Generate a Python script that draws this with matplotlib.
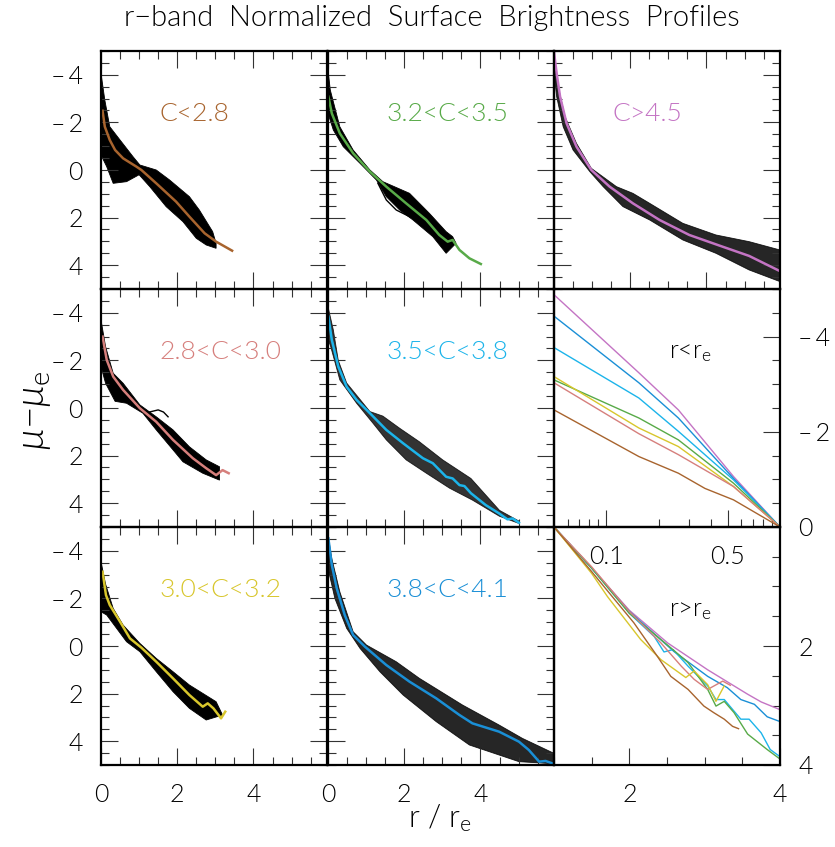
import matplotlib.pyplot as plt
from matplotlib import font_manager as fm
from matplotlib.ticker import MultipleLocator, FixedLocator, FuncFormatter


# thin looking text, close to the plotting-package font of the original
def pick_light():
    for fam in ['Lato', 'Open Sans', 'Roboto', 'Inter', 'Noto Sans']:
        for f in fm.fontManager.ttflist:
            w = f.weight
            if isinstance(w, str):
                w = fm.weight_dict.get(w, 400)
            if f.name == fam and f.style == 'normal' and w == 300:
                return fam, 300
    return 'DejaVu Sans', 400


fam, wt = pick_light()
plt.rcParams['font.family'] = [fam, 'DejaVu Sans']
plt.rcParams['font.weight'] = wt
plt.rcParams['mathtext.fontset'] = 'custom'
plt.rcParams['mathtext.rm'] = '%s:weight=%d' % (fam, wt)
plt.rcParams['mathtext.it'] = '%s:style=italic:weight=%d' % (fam, wt)
plt.rcParams['mathtext.default'] = 'it'

# ---- colours of the concentration bins
brown, salmon, yellow, green = '#a8642e', '#d67f7c', '#d8c62c', '#58aa48'
sky, blue, orchid = '#1cb4ea', '#1a8fd6', '#c474c4'

# ---- C<2.8 : mean profile + envelope of the individual galaxies
c1_x = [0.04, 0.10, 0.23, 0.37, 0.58, 0.93, 1.06, 1.45, 1.97, 2.32, 2.72, 3.02, 3.44]
c1_y = [-2.49, -1.82, -1.26, -0.84, -0.49, -0.14, 0.0, 0.56, 1.33, 1.96, 2.66, 3.01, 3.39]
c1_up_x = [0.0, 0.10, 0.23, 0.50, 0.84, 1.02, 1.45, 1.80, 2.32, 2.58, 2.93, 3.02]
c1_up_y = [-4.06, -2.94, -1.82, -1.26, -0.56, -0.21, 0.0, 0.42, 1.12, 1.68, 2.59, 3.08]
c1_lo_x = [0.0, 0.15, 0.32, 0.67, 1.00, 1.28, 1.71, 2.15, 2.50, 2.76, 3.02]
c1_lo_y = [-0.63, -0.14, 0.56, 0.49, 0.20, 0.70, 1.54, 2.17, 2.87, 3.15, 3.29]

# ---- 3.2<C<3.5
c2_x = [0.01, 0.10, 0.31, 0.66, 1.10, 1.53, 2.05, 2.58, 2.92, 3.14, 3.27, 3.45, 3.71, 4.01]
c2_y = [-3.08, -2.38, -1.54, -0.70, 0.07, 0.70, 1.40, 2.10, 2.73, 3.01, 2.94, 3.36, 3.71, 3.95]
c2_up_x = [0.0, 0.06, 0.31, 0.66, 1.10, 1.44, 2.14, 2.66, 3.10, 3.27, 3.36]
c2_up_y = [-4.2, -3.36, -1.82, -0.84, 0.0, 0.49, 0.98, 1.82, 2.59, 2.80, 3.08]
c2_lo_x = [0.0, 0.14, 0.40, 0.84, 1.27, 1.53, 1.88, 2.23, 2.75, 3.10]
c2_lo_y = [-2.38, -1.68, -0.98, -0.28, 0.42, 1.12, 1.68, 2.10, 2.80, 3.50]
c2_odd_x = [1.31, 1.53, 1.79, 2.14]
c2_odd_y = [0.56, 1.26, 1.68, 1.96]

# ---- C>4.5
c3_x = [0.0, 0.07, 0.16, 0.33, 0.59, 0.98, 1.46, 2.07, 2.77, 3.55, 4.42, 5.12, 5.93]
c3_y = [-4.95, -4.06, -3.08, -1.96, -0.98, 0.0, 0.70, 1.40, 2.10, 2.73, 3.22, 3.61, 4.25]
c3_up_x = [0.0, 0.11, 0.29, 0.59, 0.98, 1.64, 2.07, 2.51, 3.38, 4.25, 5.12, 5.93]
c3_up_y = [-4.95, -3.5, -2.24, -1.12, -0.07, 0.70, 0.98, 1.40, 2.24, 2.73, 3.01, 3.36]
c3_lo_x = [0.0, 0.07, 0.24, 0.50, 0.94, 1.29, 1.81, 2.51, 3.38, 4.25, 5.12, 5.93]
c3_lo_y = [-4.06, -3.08, -1.82, -0.84, 0.07, 0.70, 1.54, 2.10, 2.94, 3.50, 4.20, 4.69]

# ---- 2.8<C<3.0
c4_x = [0.04, 0.15, 0.32, 0.58, 1.02, 1.45, 1.89, 2.41, 2.76, 3.02, 3.19, 3.35]
c4_y = [-3.0, -2.02, -1.32, -0.76, 0.01, 0.58, 1.34, 2.11, 2.53, 2.82, 2.61, 2.74]
c4_up_x = [0.0, 0.12, 0.32, 0.58, 1.02, 1.45, 1.89, 2.32, 2.76, 3.11]
c4_up_y = [-3.70, -2.58, -1.46, -1.04, -0.13, 0.37, 0.92, 1.63, 2.18, 2.47]
c4_lo_x = [0.0, 0.12, 0.37, 0.67, 1.10, 1.45, 1.89, 2.15, 2.67, 3.11]
c4_lo_y = [-1.74, -1.04, -0.28, -0.20, 0.22, 0.92, 1.76, 2.26, 2.74, 3.03]
c4_odd_x = [1.15, 1.32, 1.50, 1.64, 1.76]
c4_odd_y = [0.22, 0.15, 0.08, 0.17, 0.37]

# ---- 3.5<C<3.8
c5_x = [0.01, 0.10, 0.27, 0.49, 0.75, 1.10, 1.53, 1.97, 2.49, 2.75, 3.10, 3.27, 3.45,
        3.58, 3.75, 4.14, 4.49, 4.71, 4.84, 5.01]
c5_y = [-3.84, -2.86, -1.74, -0.89, -0.34, 0.22, 0.92, 1.48, 2.11, 2.32, 2.89, 2.96, 3.24,
        3.28, 3.58, 4.08, 4.43, 4.68, 4.64, 4.82]
c5_up_x = [0.0, 0.14, 0.27, 0.49, 1.10, 1.44, 1.88, 2.40, 3.01, 3.75, 4.50, 5.01]
c5_up_y = [-4.26, -3.28, -2.0, -1.05, 0.15, 0.34, 0.85, 1.42, 2.18, 2.96, 4.30, 4.75]
c5_lo_x = [0.0, 0.07, 0.31, 0.75, 1.18, 1.53, 2.05, 2.58, 3.19, 3.79, 4.50, 5.01]
c5_lo_y = [-2.9, -2.58, -1.18, -0.20, 0.64, 1.34, 2.18, 2.74, 3.37, 3.87, 4.55, 4.85]

# ---- 3.0<C<3.2
c6_x = [0.04, 0.13, 0.23, 0.50, 0.76, 1.06, 1.45, 1.89, 2.32, 2.67, 2.80, 2.95, 3.15, 3.26]
c6_y = [-3.12, -2.14, -1.72, -1.02, -0.32, 0.07, 0.66, 1.36, 2.06, 2.55, 2.41, 2.62, 3.04, 2.76]
c6_up_x = [0.0, 0.12, 0.32, 0.58, 1.02, 1.45, 1.89, 2.32, 2.67, 3.02]
c6_up_y = [-3.54, -2.6, -1.58, -0.88, -0.11, 0.52, 1.08, 1.64, 1.99, 2.34]
c6_lo_x = [0.0, 0.15, 0.41, 0.67, 1.02, 1.45, 1.89, 2.32, 2.76, 3.19]
c6_lo_y = [-1.44, -1.30, -0.74, -0.18, 0.24, 1.08, 1.92, 2.62, 3.11, 2.90]

# ---- 3.8<C<4.1
c7_x = [0.01, 0.10, 0.23, 0.44, 0.66, 0.97, 1.53, 2.14, 2.84, 3.45, 3.79, 4.49, 4.75, 5.01,
        5.27, 5.54, 5.71, 5.88]
c7_y = [-4.52, -3.40, -2.42, -1.30, -0.46, 0.03, 0.80, 1.50, 2.20, 2.90, 3.25, 3.60, 3.81, 4.02,
        4.37, 4.86, 4.83, 4.93]
c7_up_x = [0.0, 0.10, 0.31, 0.66, 1.01, 1.79, 2.40, 3.53, 4.49, 5.10, 5.93]
c7_up_y = [-4.66, -3.68, -2.28, -0.60, -0.04, 0.66, 1.36, 2.48, 3.32, 3.88, 4.51]
c7_lo_x = [0.0, 0.18, 0.49, 0.84, 1.36, 1.97, 2.84, 3.71, 5.01, 5.93]
c7_lo_y = [-3.26, -2.0, -0.74, 0.10, 1.08, 2.06, 3.18, 4.16, 4.86, 4.95]

# ---- mean profiles inside r_e (log r/r_e)
in_r = [0.05, 0.154, 0.26, 0.54, 1.0]
in_c45 = [-4.88, -3.24, -2.46, -1.06, 0.0]
in_c41 = [-4.43, -3.03, -2.29, -1.02, 0.0]
in_c38 = [-3.77, -2.71, -2.01, -0.99, 0.0]
in_c35 = [-3.09, -2.29, -1.83, -0.92, 0.0]
in_c32 = [-3.16, -2.08, -1.69, -0.85, 0.0]
in_c30 = [-3.03, -1.96, -1.52, -0.85, 0.0]
in_c28_r = [0.05, 0.154, 0.26, 0.37, 0.54, 1.0]
in_c28 = [-2.46, -1.48, -1.13, -0.81, -0.57, 0.0]

# ---- mean profiles outside r_e
out_c45_r = [1.0, 1.5, 2.0, 2.51, 3.04, 3.57, 3.75, 4.0]
out_c45 = [0.0, 0.69, 1.40, 1.95, 2.40, 2.81, 2.94, 3.07]
out_c41_r = [1.0, 1.5, 2.0, 2.59, 3.04, 3.30, 3.48, 3.66, 3.83, 4.0]
out_c41 = [0.0, 0.69, 1.42, 2.09, 2.51, 2.70, 2.90, 2.98, 3.19, 3.27]
out_c38_r = [1.0, 1.5, 2.0, 2.33, 2.46, 2.58, 2.78, 3.04, 3.15, 3.26, 3.48, 3.59, 3.75, 3.87, 4.0]
out_c38 = [0.0, 0.69, 1.45, 1.84, 2.10, 2.06, 2.34, 2.67, 2.90, 2.90, 3.23, 3.23, 3.46, 3.74, 3.86]
out_c35_r = [1.0, 1.5, 2.0, 2.55, 2.78, 3.04, 3.15, 3.26, 3.39, 3.57, 3.83, 4.0]
out_c35 = [0.0, 0.69, 1.45, 2.03, 2.28, 2.73, 3.01, 2.93, 3.12, 3.48, 3.74, 3.90]
out_c30_r = [1.0, 1.5, 2.0, 2.42, 2.69, 2.86, 3.04, 3.24, 3.34]
out_c30 = [0.0, 0.67, 1.42, 1.95, 2.34, 2.56, 2.73, 2.59, 2.66]
out_c32_r = [1.0, 1.5, 1.71, 2.15, 2.42, 2.75, 2.86, 3.04, 3.15, 3.26]
out_c32 = [0.0, 0.78, 1.17, 1.89, 2.23, 2.53, 2.42, 2.65, 2.93, 2.67]
out_c28_r = [1.0, 1.5, 2.06, 2.37, 2.55, 2.78, 2.99, 3.12, 3.26, 3.37, 3.45]
out_c28 = [0.0, 0.75, 1.61, 2.17, 2.51, 2.73, 3.01, 3.12, 3.23, 3.35, 3.39]

FS = 18
W, H = 835, 847
fig = plt.figure(figsize=(W / 100, H / 100), dpi=100)

col_left = [101, 328, 554]
row_top = [51, 289, 527]
pw, ph = 226, 238


def tick_fmt(v, pos):
    # long minus sign, as in the original labels
    if v < 0:
        return '\u2013\u2009%g' % abs(v)
    return '%g' % v


def make_ax(col, row):
    l = col_left[col] / W
    b = 1 - (row_top[row] + ph) / H
    ax = fig.add_axes([l, b, pw / W, ph / H])
    ax.patch.set_alpha(0)
    for s in ax.spines.values():
        s.set_linewidth(1.6)
    ax.tick_params(which='both', direction='in', width=0.8, color='#333333',
                   labelsize=FS, pad=13)
    ax.tick_params(which='major', length=12)
    ax.tick_params(which='minor', length=6)
    return ax


panels = [
    (0, 0, 'C<2.8', brown, c1_x, c1_y, c1_up_x, c1_up_y, c1_lo_x, c1_lo_y, None, None, 1.0),
    (1, 0, '3.2<C<3.5', green, c2_x, c2_y, c2_up_x, c2_up_y, c2_lo_x, c2_lo_y, c2_odd_x, c2_odd_y, 1.0),
    (2, 0, 'C>4.5', orchid, c3_x, c3_y, c3_up_x, c3_up_y, c3_lo_x, c3_lo_y, None, None, 0.85),
    (0, 1, '2.8<C<3.0', salmon, c4_x, c4_y, c4_up_x, c4_up_y, c4_lo_x, c4_lo_y, c4_odd_x, c4_odd_y, 1.0),
    (1, 1, '3.5<C<3.8', sky, c5_x, c5_y, c5_up_x, c5_up_y, c5_lo_x, c5_lo_y, None, None, 0.8),
    (0, 2, '3.0<C<3.2', yellow, c6_x, c6_y, c6_up_x, c6_up_y, c6_lo_x, c6_lo_y, None, None, 1.0),
    (1, 2, '3.8<C<4.1', blue, c7_x, c7_y, c7_up_x, c7_up_y, c7_lo_x, c7_lo_y, None, None, 0.85),
]

for col, row, lab, colr, mx, my, ux, uy, lx, ly, ox, oy, alp in panels:
    ax = make_ax(col, row)
    ax.fill(ux + lx[::-1], uy + ly[::-1], color='k', alpha=alp, lw=0.6)
    if ox is not None:
        ax.plot(ox, oy, color='k', lw=1.0)
    ax.plot(mx, my, color=colr, lw=1.8)
    ax.text(1.53, -2.35, lab, color=colr, fontsize=19, ha='left', va='center')
    ax.set_xlim(0, 5.93)
    ax.set_ylim(5, -5)
    ax.xaxis.set_major_locator(MultipleLocator(2))
    ax.xaxis.set_minor_locator(MultipleLocator(0.5))
    ax.yaxis.set_major_locator(MultipleLocator(2))
    ax.yaxis.set_minor_locator(MultipleLocator(0.5))
    ax.yaxis.set_major_formatter(FuncFormatter(tick_fmt))
    ax.tick_params(which='both', top=True, right=True,
                   labelleft=(col == 0), labelbottom=(row == 2))

# ---- inner profiles (r < r_e)
ax = make_ax(2, 1)
for yy, cc in [(in_c45, orchid), (in_c41, blue), (in_c38, sky), (in_c35, green),
               (in_c32, yellow), (in_c30, salmon)]:
    ax.plot(in_r, yy, color=cc, lw=1.0)
ax.plot(in_c28_r, in_c28, color=brown, lw=1.0)
ax.set_xscale('log')
ax.set_xlim(0.05, 1.0)
ax.set_ylim(0, -5)
ax.xaxis.set_major_locator(FixedLocator([0.1, 0.5]))
ax.xaxis.set_minor_locator(FixedLocator([0.06, 0.07, 0.08, 0.09, 0.2, 0.3, 0.4,
                                         0.6, 0.7, 0.8, 0.9]))
ax.set_xticklabels(['0.1', '0.5'])
ax.xaxis.set_minor_formatter(plt.NullFormatter())
ax.yaxis.set_major_locator(MultipleLocator(2))
ax.yaxis.set_minor_locator(MultipleLocator(0.5))
ax.yaxis.set_major_formatter(FuncFormatter(tick_fmt))
ax.tick_params(which='both', left=False, right=True, top=False, bottom=True,
               labelleft=False, labelright=True)
ax.text(0.51, 0.735, r'r<r$_{\rm e}$', transform=ax.transAxes, fontsize=FS,
        ha='left', va='center')

# ---- outer profiles (r > r_e)
ax = make_ax(2, 2)
ax.plot(out_c45_r, out_c45, color=orchid, lw=1.0)
ax.plot(out_c41_r, out_c41, color=blue, lw=1.0)
ax.plot(out_c38_r, out_c38, color=sky, lw=1.0)
ax.plot(out_c35_r, out_c35, color=green, lw=1.0)
ax.plot(out_c30_r, out_c30, color=salmon, lw=1.0)
ax.plot(out_c32_r, out_c32, color=yellow, lw=1.0)
ax.plot(out_c28_r, out_c28, color=brown, lw=1.0)
ax.set_xlim(1, 4)
ax.set_ylim(4, 0)
ax.xaxis.set_major_locator(FixedLocator([2, 4]))
ax.xaxis.set_minor_locator(MultipleLocator(0.5))
ax.yaxis.set_major_locator(FixedLocator([0, 2, 4]))
ax.yaxis.set_minor_locator(MultipleLocator(0.5))
ax.set_yticklabels(['', '2', '4'])
ax.tick_params(which='both', left=False, right=True, top=False, bottom=True,
               labelleft=False, labelright=True)
ax.text(0.51, 0.653, r'r>r$_{\rm e}$', transform=ax.transAxes, fontsize=FS,
        ha='left', va='center')

fig.text(0.517, 0.979, 'r\u2212band  Normalized  Surface  Brightness  Profiles',
         ha='center', va='center', fontsize=21)
fig.text(0.527, 0.034, r'r / r$_{\rm e}$', ha='center', va='center', fontsize=22)
fig.text(0.042, 0.516, r'$\mu{-}\mu_{\rm e}$', ha='center', va='center',
         fontsize=28, rotation=90)

fig.savefig('out.png', dpi=100)
